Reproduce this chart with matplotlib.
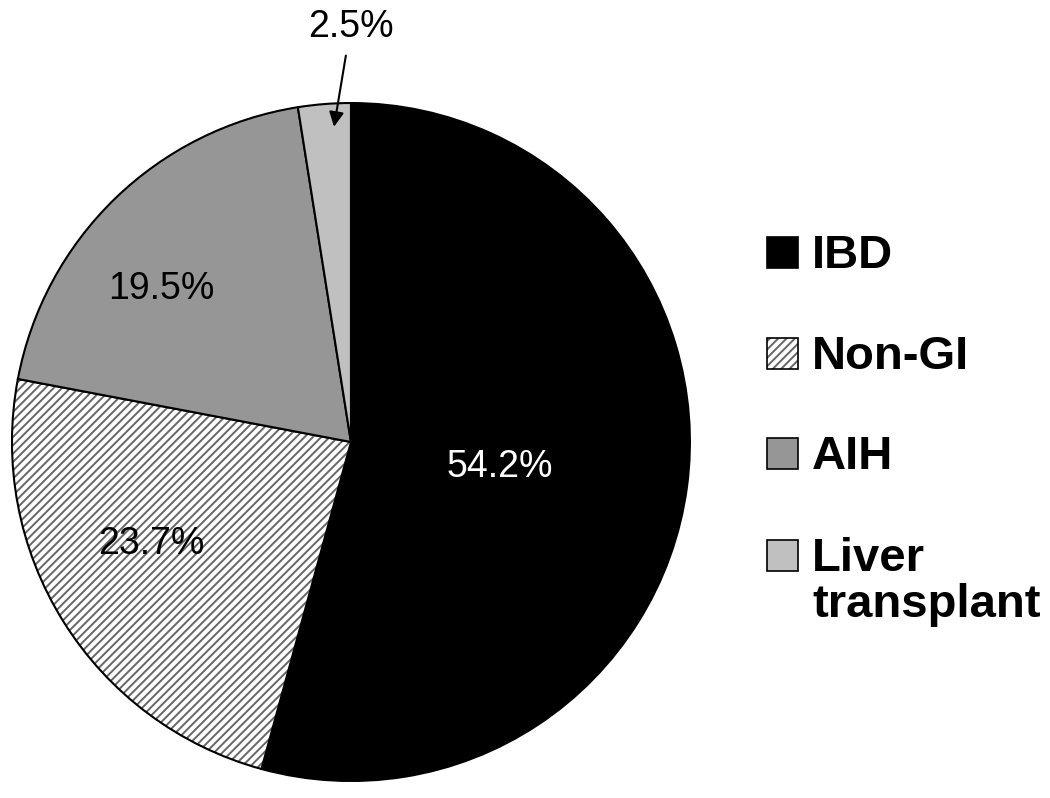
import numpy as np
import matplotlib.pyplot as plt
from matplotlib.patches import Rectangle

plt.rcParams['font.family'] = ['Liberation Sans', 'DejaVu Sans']
plt.rcParams['hatch.linewidth'] = 1.4

# data
labels = ['IBD', 'Non-GI', 'AIH', 'Liver\ntransplant']
values = [54.2, 23.7, 19.5, 2.5]
colors = ['#000000', '#ffffff', '#969696', '#c0c0c0']
hatches = [None, '////', None, None]

fig = plt.figure(figsize=(10.5, 7.98), dpi=100)
# square axes in pixels, pie centred at about (350, 443)
ax = fig.add_axes([0.0114, 0.0213, 0.6457, 0.8496])

wedges, _ = ax.pie(values, colors=colors, startangle=90, counterclock=False,
                   radius=1.0,
                   wedgeprops=dict(edgecolor='black', linewidth=1.5))
for w, h in zip(wedges, hatches):
    if h:
        w.set_hatch(h)
        w._hatch_color = (0.4, 0.4, 0.4, 1.0)
ax.set_xlim(-1, 1)
ax.set_ylim(-1, 1)
ax.axis('off')

# percentage labels
pct = ['%.1f%%' % v for v in values]
ax.text(0.44, -0.075, pct[0], color='white', fontsize=27, ha='center', va='center')
ax.text(-0.59, -0.30, pct[1], color='black', fontsize=27, ha='center', va='center')
ax.text(-0.56, 0.45, pct[2], color='black', fontsize=27, ha='center', va='center')
ax.text(0.0, 1.225, pct[3], color='black', fontsize=27, ha='center', va='center',
        clip_on=False)
ax.annotate('', xy=(-0.05, 0.93), xytext=(-0.015, 1.14),
            arrowprops=dict(arrowstyle='-|>', color='black', lw=1.5,
                            mutation_scale=22, shrinkA=0, shrinkB=0),
            annotation_clip=False)

# legend drawn by hand
W, H = 1050.0, 798.0
tops = [237, 338, 438, 540]
for lab, c, h, t in zip(labels, colors, hatches, tops):
    r = Rectangle((767 / W, 1 - (t + 31) / H), 31 / W, 31 / H,
                  transform=fig.transFigure, facecolor=c, edgecolor='black',
                  linewidth=1.2, hatch=h)
    if h:
        r._hatch_color = (0.4, 0.4, 0.4, 1.0)
    fig.patches.append(r)
    nl = lab.count('\n')
    fig.text(812 / W, 1 - (t + 31 + 46 * nl) / H, lab, fontsize=34,
             fontweight='bold', ha='left', va='baseline', linespacing=1.05)

fig.savefig('out.png', dpi=100)
